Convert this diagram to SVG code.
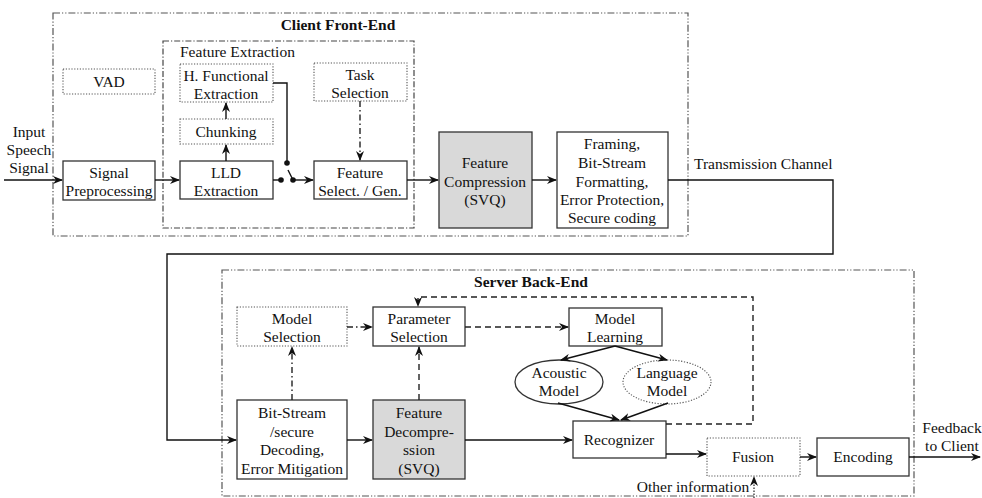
<svg xmlns="http://www.w3.org/2000/svg" width="982" height="498" viewBox="0 0 982 498" font-family="'Liberation Serif', 'DejaVu Serif', serif">
<defs>
<marker id="ah" markerWidth="10" markerHeight="8" refX="9" refY="4" orient="auto" markerUnits="userSpaceOnUse">
<path d="M0,0 L10,4 L0,8 L3,4 z" fill="#111"/>
</marker>
</defs>
<style>
text{font-family:'Liberation Serif','DejaVu Serif',serif;font-size:15.5px;fill:#111;text-anchor:middle}
.b{font-weight:bold}
.l{text-anchor:start}
.box{fill:#fff;stroke:#333;stroke-width:1.3}
.gray{fill:#d9d9d9;stroke:#333;stroke-width:1.3}
.dot{fill:#fff;stroke:#555;stroke-width:1.1;stroke-dasharray:1.2 1.6}
.outer{fill:none;stroke:#555;stroke-width:1.2;stroke-dasharray:7 2 1.2 2 1.2 2}
.inner{fill:none;stroke:#444;stroke-width:1.2;stroke-dasharray:6 2 1.2 2}
.c{fill:none;stroke:#111;stroke-width:1.4}
.dash{fill:none;stroke:#222;stroke-width:1.4;stroke-dasharray:6 4}
.dd{fill:none;stroke:#222;stroke-width:1.4;stroke-dasharray:6 3 1.5 3}
.dt{fill:none;stroke:#222;stroke-width:1.2;stroke-dasharray:1.5 1.5}
</style>

<g id="client-frontend">
<rect class="outer" x="53" y="13" width="635" height="223"/>
<text class="b" x="338" y="30">Client Front-End</text>
</g>
<g id="feature-extraction">
<rect class="inner" x="163" y="41" width="251" height="187"/>
<text class="l" x="180" y="57">Feature  Extraction</text>
</g>
<g id="server-backend">
<rect class="outer" x="222" y="270" width="692" height="226"/>
<text class="b" x="531" y="287">Server Back-End</text>
</g>

<g id="input-label">
<text x="29" y="137">Input</text>
<text x="29" y="155">Speech</text>
<text x="29" y="173">Signal</text>
</g>
<g id="vad"><rect class="dot" x="63" y="69" width="92" height="25"/><text x="109" y="87">VAD</text></g>
<g id="signal-pre"><rect class="box" x="63" y="161" width="92" height="39"/><text x="109" y="178">Signal</text><text x="109" y="196">Preprocessing</text></g>
<g id="hfunc"><rect class="dot" x="180" y="64" width="93" height="38"/><text x="226" y="81">H. Functional</text><text x="226" y="99">Extraction</text></g>
<g id="chunking"><rect class="dot" x="180" y="119" width="93" height="25"/><text x="226" y="137">Chunking</text></g>
<g id="lld"><rect class="box" x="180" y="161" width="93" height="38"/><text x="226" y="178">LLD</text><text x="226" y="196">Extraction</text></g>
<g id="task"><rect class="dot" x="314" y="63" width="93" height="38"/><text x="360" y="80">Task</text><text x="360" y="98">Selection</text></g>
<g id="feat-sel"><rect class="box" x="314" y="161" width="93" height="38"/><text x="360" y="178">Feature</text><text x="360" y="196">Select. / Gen.</text></g>
<g id="feat-comp"><rect class="gray" x="439" y="132" width="93" height="96"/><text x="485" y="168">Feature</text><text x="485" y="187">Compression</text><text x="485" y="205">(SVQ)</text></g>
<g id="framing"><rect class="box" x="557" y="132" width="111" height="96"/><text x="612" y="149">Framing,</text><text x="612" y="168">Bit-Stream</text><text x="612" y="187">Formatting,</text><text x="612" y="205">Error Protection,</text><text x="612" y="223">Secure coding</text></g>
<g id="trans-label"><text class="l" x="694" y="169">Transmission Channel</text></g>

<g id="model-sel"><rect class="dot" x="237" y="307" width="110" height="39"/><text x="292" y="324">Model</text><text x="292" y="342">Selection</text></g>
<g id="param-sel"><rect class="box" x="373" y="307" width="92" height="39"/><text x="419" y="324">Parameter</text><text x="419" y="342">Selection</text></g>
<g id="model-learn"><rect class="box" x="569" y="308" width="93" height="38"/><text x="615" y="324">Model</text><text x="615" y="342">Learning</text></g>
<g id="acoustic"><ellipse cx="559" cy="382" rx="44" ry="22" fill="#fff" stroke="#333" stroke-width="1.3"/><text x="559" y="378">Acoustic</text><text x="559" y="396">Model</text></g>
<g id="language"><ellipse cx="667" cy="382" rx="44" ry="22" fill="#fff" stroke="#555" stroke-width="1.1" stroke-dasharray="1.2 1.6"/><text x="667" y="378">Language</text><text x="667" y="396">Model</text></g>
<g id="bitstream"><rect class="box" x="237" y="400" width="110" height="79"/><text x="292" y="418">Bit-Stream</text><text x="292" y="437">/secure</text><text x="292" y="455">Decoding,</text><text x="292" y="474">Error Mitigation</text></g>
<g id="feat-decomp"><rect class="gray" x="373" y="400" width="92" height="79"/><text x="419" y="418">Feature</text><text x="419" y="437">Decompre-</text><text x="419" y="455">ssion</text><text x="419" y="474">(SVQ)</text></g>
<g id="recognizer"><rect class="box" x="573" y="421" width="93" height="37"/><text x="619" y="445">Recognizer</text></g>
<g id="fusion"><rect class="dot" x="707" y="438" width="93" height="38"/><text x="753" y="462">Fusion</text></g>
<g id="encoding"><rect class="box" x="817" y="438" width="92" height="38"/><text x="863" y="462">Encoding</text></g>
<g id="feedback-label"><text x="952" y="433">Feedback</text><text x="952" y="451">to Client</text></g>
<g id="other-label"><text x="693" y="492">Other information</text></g>

<g id="connectors">
<path class="c" d="M4,180 H62" marker-end="url(#ah)"/>
<path class="c" d="M155,180 H179" marker-end="url(#ah)"/>
<path class="c" d="M226,161 V145" marker-end="url(#ah)"/>
<path class="c" d="M226,119 V103" marker-end="url(#ah)"/>
<path class="c" d="M273,83 H287 V163"/>
<path class="c" d="M273,180 H281"/>
<circle cx="287" cy="163" r="2.8" fill="#111"/>
<circle cx="281" cy="180" r="2.8" fill="#111"/>
<circle cx="293" cy="180" r="2.8" fill="#111"/>
<path class="c" d="M288,170 L293,180"/>
<path class="c" d="M293,180 H313" marker-end="url(#ah)"/>
<path class="dd" d="M360,101 V160" marker-end="url(#ah)"/>
<path class="c" d="M407,180 H438" marker-end="url(#ah)"/>
<path class="c" d="M532,180 H556" marker-end="url(#ah)"/>
<path class="c" d="M668,180 H833 V254 H167 V440 H236" marker-end="url(#ah)"/>
<path class="c" d="M347,440 H372" marker-end="url(#ah)"/>
<path class="c" d="M465,440 H572" marker-end="url(#ah)"/>
<path class="dd" d="M292,400 V347" marker-end="url(#ah)"/>
<path class="dd" d="M347,327 H372" marker-end="url(#ah)"/>
<path class="dash" d="M419,400 V347" marker-end="url(#ah)"/>
<path class="dash" d="M465,327 H568" marker-end="url(#ah)"/>
<path class="dash" d="M666,424 H753 V297 H418 V306" marker-end="url(#ah)"/>
<path class="c" d="M615,346 L561,360" marker-end="url(#ah)"/>
<path class="c" d="M615,346 L667,360" marker-end="url(#ah)"/>
<path class="c" d="M558,403 L619,420" marker-end="url(#ah)"/>
<path class="c" d="M668,403 L621,420" marker-end="url(#ah)"/>
<path class="c" d="M666,454 H706" marker-end="url(#ah)"/>
<path class="c" d="M800,457 H816" marker-end="url(#ah)"/>
<path class="c" d="M909,457 H980" marker-end="url(#ah)"/>
<path class="dt" d="M754,498 V477" marker-end="url(#ah)"/>
</g>
</svg>
